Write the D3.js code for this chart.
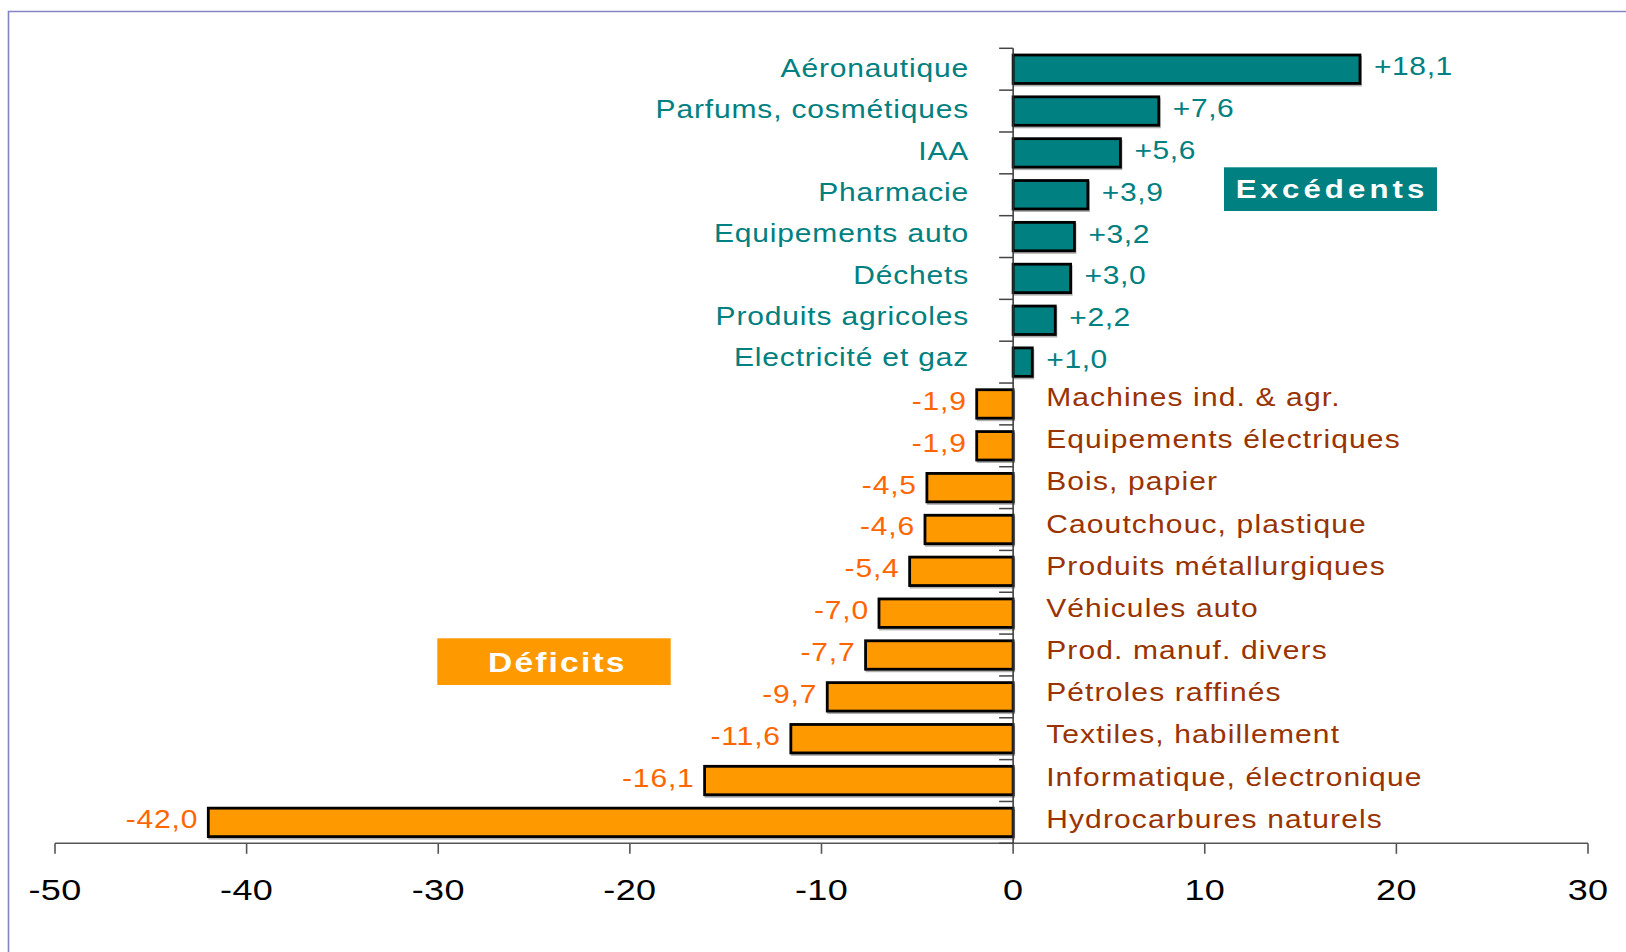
<!DOCTYPE html>
<html>
<head>
<meta charset="utf-8">
<script src="https://cdn.jsdelivr.net/npm/d3@7/dist/d3.min.js"></script>
<style>
  html, body { margin: 0; padding: 0; background: #fff; }
  svg { display: block; }
  text { font-family: "Liberation Sans", Arial, sans-serif; }
</style>
</head>
<body>
<svg id="chart" width="1626" height="952"></svg>
<script>
const categories = [
  "Aéronautique", "Parfums, cosmétiques", "IAA", "Pharmacie", "Equipements auto",
  "Déchets", "Produits agricoles", "Electricité et gaz", "Machines ind. & agr.",
  "Equipements électriques", "Bois, papier", "Caoutchouc, plastique",
  "Produits métallurgiques", "Véhicules auto", "Prod. manuf. divers",
  "Pétroles raffinés", "Textiles, habillement", "Informatique, électronique",
  "Hydrocarbures naturels"
];
const values = [18.1, 7.6, 5.6, 3.9, 3.2, 3.0, 2.2, 1.0, -1.9, -1.9, -4.5, -4.6, -5.4, -7.0, -7.7, -9.7, -11.6, -16.1, -42.0];
const xTicks = [-50, -40, -30, -20, -10, 0, 10, 20, 30];
const annotations = [
  { text: "Excédents", kind: "pos" },
  { text: "Déficits", kind: "neg" }
];

const TEAL = "#008080", ORANGE = "#FF9900", ORANGE_TXT = "#FF6600", BROWN = "#993300";
const SX = 1.2; // horizontal stretch of the original rendering

const svg = d3.select("#chart");

// frame
svg.append("path")
  .attr("d", "M8.5,960 L8.5,11.5 L1640,11.5")
  .attr("fill", "none").attr("stroke", "#8484C4").attr("stroke-width", 1.6);

const x = d3.scaleLinear().domain([-50, 30]).range([55, 1588]);
const y = d3.scaleBand().domain(categories).range([48.3, 843.3]).paddingInner(0.32).paddingOuter(0.16);
const x0 = x(0);

function fmt(v) {
  const s = Math.abs(v).toFixed(1).replace(".", ",");
  return (v > 0 ? "+" : "-") + s;
}

function stretchedText(g, tx, ty, txt, opts) {
  return g.append("text")
    .attr("transform", `translate(${tx},${ty}) scale(${SX},1)`)
    .attr("text-anchor", opts.anchor || "start")
    .attr("font-size", opts.size)
    .attr("font-weight", opts.weight || "normal")
    .attr("letter-spacing", opts.spacing || 0)
    .attr("fill", opts.fill)
    .text(txt);
}

// x axis
const xAxisG = svg.append("g").attr("transform", `translate(0,${843.3})`);
xAxisG.append("line").attr("x1", x(-50)).attr("x2", x(30)).attr("stroke", "#555").attr("stroke-width", 1.6);
xTicks.forEach(t => {
  xAxisG.append("line").attr("x1", x(t)).attr("x2", x(t)).attr("y1", 0).attr("y2", 10.5)
    .attr("stroke", "#555").attr("stroke-width", 1.6);
  stretchedText(xAxisG, x(t), 57, String(t), { anchor: "middle", size: 30, fill: "#000", spacing: 0.3 });
});

// bars
const bars = svg.append("g");
categories.forEach((c, i) => {
  const v = values[i];
  const bx = Math.min(x(v), x0), bw = Math.abs(x(v) - x0);
  bars.append("rect")
    .attr("x", bx + 1).attr("y", y(c) + 2).attr("width", bw).attr("height", y.bandwidth())
    .attr("fill", "none").attr("stroke", "#b0b0b0").attr("stroke-width", 2);
  bars.append("rect")
    .attr("x", bx).attr("y", y(c)).attr("width", bw).attr("height", y.bandwidth())
    .attr("fill", v > 0 ? TEAL : ORANGE).attr("stroke", "#000").attr("stroke-width", 2.8);
});

// y axis line + ticks
const yAxisG = svg.append("g");
const step = y.step();
const top0 = y.range()[0];
yAxisG.append("line").attr("x1", x0).attr("x2", x0).attr("y1", top0).attr("y2", 843.3)
  .attr("stroke", "#333").attr("stroke-width", 1.5);
for (let i = 0; i <= categories.length; i++) {
  const ty = top0 + i * step;
  yAxisG.append("line").attr("x1", x0 - 14).attr("x2", x0).attr("y1", ty).attr("y2", ty)
    .attr("stroke", "#444").attr("stroke-width", 1.5);
}

// labels
const labels = svg.append("g");
categories.forEach((c, i) => {
  const v = values[i];
  const cy = y(c) + y.bandwidth() / 2;
  if (v > 0) {
    const drift = -1 - i * 0.45;
    stretchedText(labels, x0 - 44, cy + drift + 8.5, c, { anchor: "end", size: 25, fill: TEAL, spacing: 0.7 });
    stretchedText(labels, x(v) + 14, cy - 2.5 + 8.5, fmt(v), { anchor: "start", size: 25, fill: TEAL, spacing: 0.5 });
  } else {
    const drift = -6.5 + (i - 8) * 0.35;
    stretchedText(labels, x0 + 33, cy + drift + 8.5, c, { anchor: "start", size: 25, fill: BROWN, spacing: 0.95 });
    stretchedText(labels, x(v) - 10, cy - 2.5 + 8.5, fmt(v), { anchor: "end", size: 25, fill: ORANGE_TXT, spacing: 0.7 });
  }
});

// annotation boxes
const ann = svg.append("g");
ann.append("rect").attr("x", 1224).attr("y", 167.3).attr("width", 213).attr("height", 43.7).attr("fill", TEAL);
stretchedText(ann, 1235.7, 197.7, annotations[0].text, { anchor: "start", size: 26, weight: "bold", fill: "#fff", spacing: 3.4 });
ann.append("rect").attr("x", 437.3).attr("y", 638.3).attr("width", 233.4).attr("height", 46.7).attr("fill", ORANGE);
stretchedText(ann, 488, 671.7, annotations[1].text, { anchor: "start", size: 28, weight: "bold", fill: "#fff", spacing: 1.8 });
</script>
</body>
</html>
